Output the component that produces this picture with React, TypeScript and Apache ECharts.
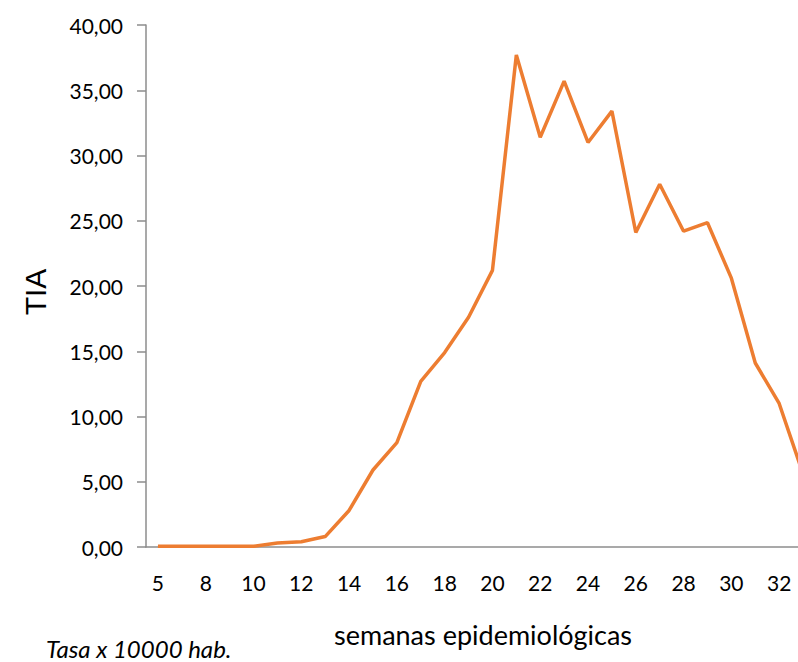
import React, { useEffect, useRef } from "react";
import * as echarts from "echarts";

const weeks = ["5", "7", "8", "9", "10", "11", "12", "13", "14", "15", "16", "17", "18", "19", "20", "21", "22", "23", "24", "25", "26", "27", "28", "29", "30", "31", "32", "33"];
const tiaValues = [0.05, 0.05, 0.05, 0.05, 0.05, 0.3, 0.4, 0.8, 2.8, 5.9, 8.0, 12.7, 14.9, 17.6, 21.2, 37.7, 31.4, 35.7, 31.0, 33.4, 24.1, 27.8, 24.2, 24.85, 20.6, 14.1, 11.0, 5.6];
const yAxisTitle = "TIA";
const xAxisTitle = "semanas epidemiológicas";
const footNote = "Tasa x 10000 hab.";

export default function App() {
  const ref = useRef<HTMLDivElement>(null);
  useEffect(() => {
    if (!ref.current) return;
    const chart = echarts.init(ref.current, null, { renderer: "svg" });
    const axisGray = "#8c8c8c";
    chart.setOption({
      animation: false,
      backgroundColor: "#ffffff",
      grid: { left: 146, top: 25, width: 669, height: 522, containLabel: false },
      xAxis: {
        type: "category",
        data: weeks,
        boundaryGap: true,
        axisLine: { show: true, lineStyle: { color: axisGray, width: 1.5 } },
        axisTick: { show: false },
        axisLabel: { interval: 1, margin: 25, fontFamily: "Lato", fontSize: 21, color: "#000" },
        splitLine: { show: false },
      },
      yAxis: {
        type: "value",
        min: 0,
        max: 40,
        interval: 5,
        axisLine: { show: true, lineStyle: { color: axisGray, width: 1.5 } },
        axisTick: { show: true, length: 9, lineStyle: { color: axisGray, width: 1.5 } },
        axisLabel: {
          margin: 23,
          fontFamily: "Lato",
          fontSize: 21,
          color: "#000",
          formatter: (v: number) => v.toFixed(2).replace(".", ","),
        },
        splitLine: { show: false },
      },
      series: [
        {
          type: "line",
          data: tiaValues,
          symbol: "none",
          lineStyle: { color: "#ED7D31", width: 3.5 },
          itemStyle: { color: "#ED7D31" },
        },
      ],
      graphic: [
        {
          type: "text",
          x: 35,
          y: 292,
          rotation: Math.PI / 2,
          style: {
            text: yAxisTitle,
            fontFamily: "Liberation Sans",
            fontSize: 30,
            fill: "#000",
            align: "center",
            verticalAlign: "middle",
          },
        },
        {
          type: "text",
          x: 483,
          y: 634,
          style: {
            text: xAxisTitle,
            fontFamily: "Lato",
            fontSize: 27,
            fill: "#000",
            align: "center",
            verticalAlign: "middle",
          },
        },
        {
          type: "text",
          x: 46,
          y: 648,
          style: {
            text: footNote,
            fontFamily: "Lato",
            fontStyle: "italic",
            fontSize: 24,
            fill: "#000",
            align: "left",
            verticalAlign: "middle",
          },
        },
      ],
    });
    return () => chart.dispose();
  }, []);
  return (
    <div style={{ position: "fixed", left: 0, top: 0, width: 798, height: 662, overflow: "hidden", background: "#fff" }}>
      <div ref={ref} style={{ width: 840, height: 662 }} />
    </div>
  );
}
